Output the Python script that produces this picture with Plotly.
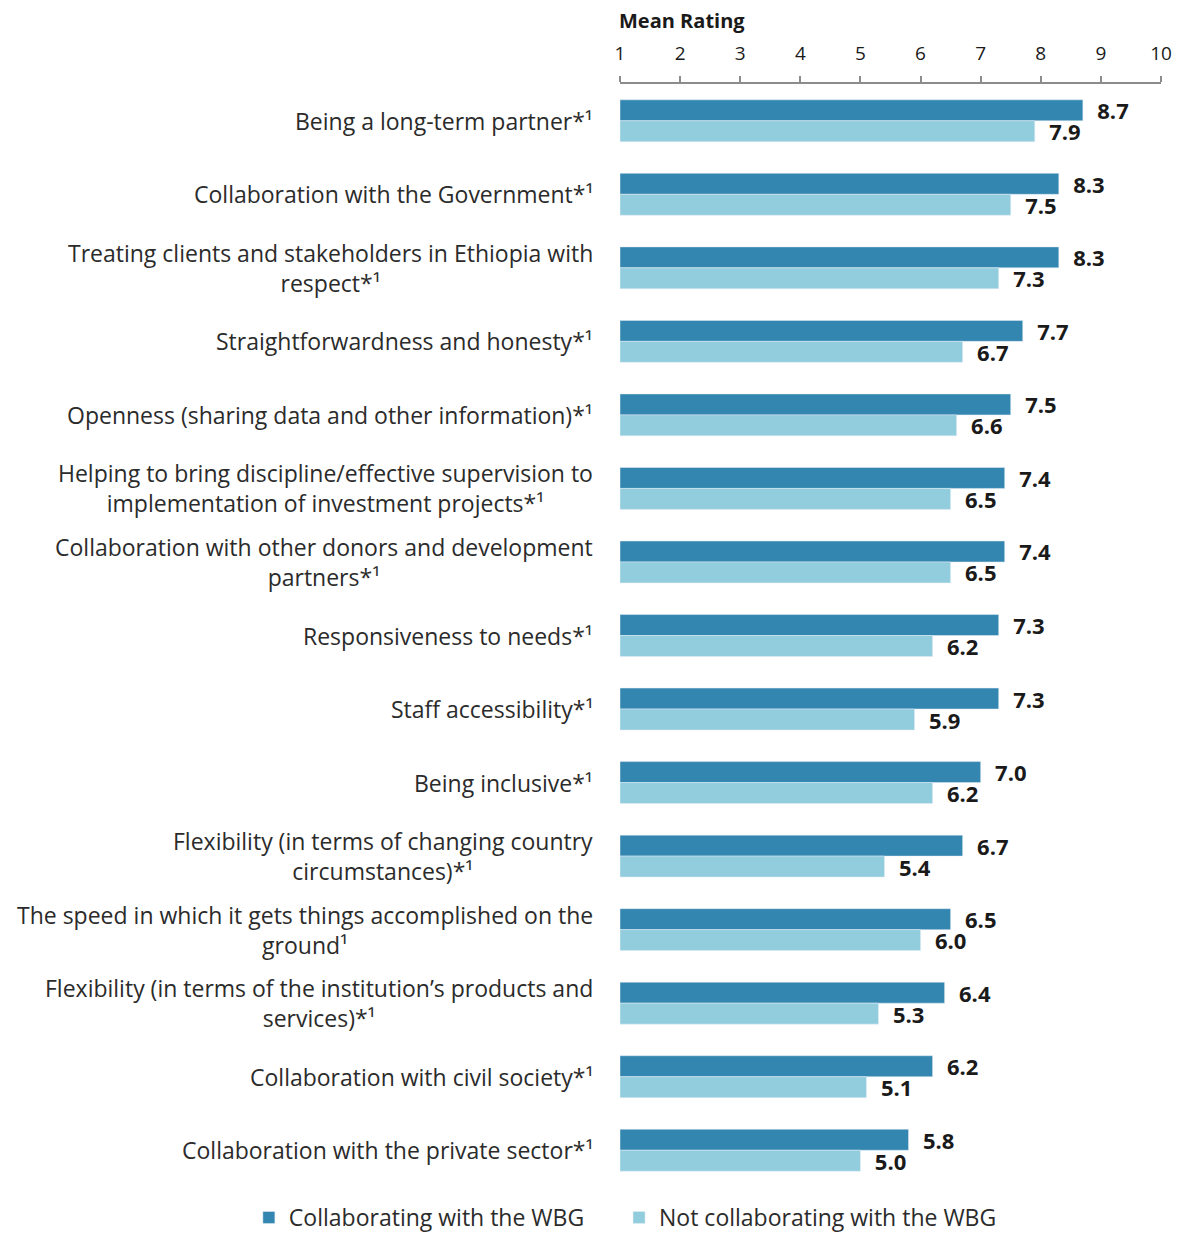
import plotly.graph_objects as go

categories = [
    "Being a long-term partner*¹",
    "Collaboration with the Government*¹",
    "Treating clients and stakeholders in Ethiopia with<br>respect*¹",
    "Straightforwardness and honesty*¹",
    "Openness (sharing data and other information)*¹",
    "Helping to bring discipline/effective supervision to<br>implementation of investment projects*¹",
    "Collaboration with other donors and development<br>partners*¹",
    "Responsiveness to needs*¹",
    "Staff accessibility*¹",
    "Being inclusive*¹",
    "Flexibility (in terms of changing country<br>circumstances)*¹",
    "The speed in which it gets things accomplished on the<br>ground¹",
    "Flexibility (in terms of the institution’s products and<br>services)*¹",
    "Collaboration with civil society*¹",
    "Collaboration with the private sector*¹",
]
collab = [8.7, 8.3, 8.3, 7.7, 7.5, 7.4, 7.4, 7.3, 7.3, 7.0, 6.7, 6.5, 6.4, 6.2, 5.8]
not_collab = [7.9, 7.5, 7.3, 6.7, 6.6, 6.5, 6.5, 6.2, 5.9, 6.2, 5.4, 6.0, 5.3, 5.1, 5.0]
tick_vals = [1, 2, 3, 4, 5, 6, 7, 8, 9, 10]

FONT = "Open Sans"
DARK = "#3386B0"
LIGHT = "#92CDDD"
PAD = "\u00a0\u00a0"

fig = go.Figure()
fig.add_trace(go.Bar(
    y=categories, x=[v - 1 for v in collab], base=1, orientation="h",
    name="Collaborating with the WBG" + "\u00a0" * 5, marker=dict(color=DARK),
    text=[PAD + f"{v:.1f}" for v in collab], textposition="outside",
    constraintext="none",
    textfont=dict(family=FONT, size=22, color="#1a1a1a", weight="bold"),
    cliponaxis=False,
))
fig.add_trace(go.Bar(
    y=categories, x=[v - 1 for v in not_collab], base=1, orientation="h",
    name="Not collaborating with the WBG", marker=dict(color=LIGHT),
    text=[PAD + f"{v:.1f}" for v in not_collab], textposition="outside",
    constraintext="none",
    textfont=dict(family=FONT, size=22, color="#1a1a1a", weight="bold"),
    cliponaxis=False,
))

annotations = [dict(text="<b>Mean Rating</b>", xref="paper", yref="paper",
                    x=-0.006, y=1.0, yshift=64, xanchor="left", yanchor="middle",
                    showarrow=False, font=dict(family=FONT, size=20, color="#1a1a1a"))]
for c in categories:
    annotations.append(dict(
        text=c, xref="paper", yref="y", x=0, y=c, xanchor="right", yanchor="middle",
        xshift=-25, align="center", showarrow=False,
        font=dict(family=FONT, size=23, color="#2b2b2b"),
    ))

fig.update_layout(
    width=1172, height=1231,
    margin=dict(l=612, r=19, t=76, b=0),
    barmode="group", bargap=0.43, bargroupgap=0,
    plot_bgcolor="white", paper_bgcolor="white",
    font=dict(family=FONT, color="#333333"),
    showlegend=True,
    legend=dict(orientation="h", x=-0.686, xanchor="left", y=-0.0001, yanchor="bottom",
                font=dict(family=FONT, size=23, color="#2b2b2b"),
                itemwidth=30, tracegroupgap=0, traceorder="normal"),
    annotations=annotations,
)
fig.update_xaxes(
    side="top", range=[1, 10], tickvals=tick_vals, ticktext=[str(t) for t in tick_vals],
    showgrid=False, zeroline=False, showline=True, linecolor="#8c8c8c", linewidth=2,
    ticks="outside", ticklen=6, tickcolor="#8c8c8c", tickwidth=2,
    tickfont=dict(family=FONT, size=19, color="#1a1a1a"), ticklabelstandoff=8,
)
fig.update_yaxes(
    autorange="reversed", showgrid=False, showline=False, ticks="",
    showticklabels=False, domain=[0.04502, 1],
)

fig.write_html("out.html")
